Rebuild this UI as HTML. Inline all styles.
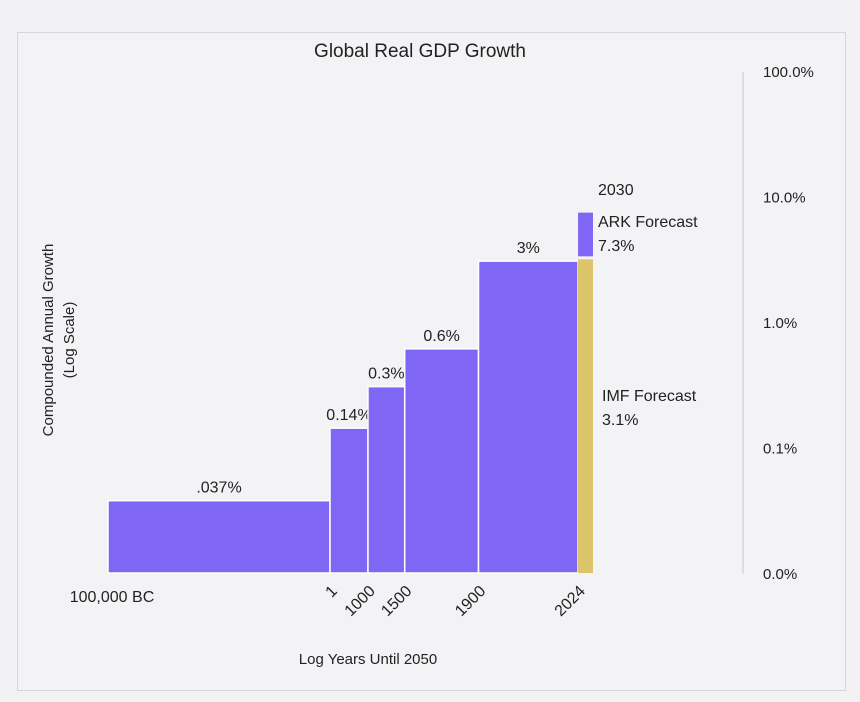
<!DOCTYPE html>
<html><head><meta charset="utf-8"><style>
body{margin:0;background:#f2f2f4;}
svg{display:block;font-family:"Liberation Sans",sans-serif;}
</style></head><body>
<svg id="chart" width="860" height="702" viewBox="0 0 860 702">
<rect x="17.5" y="32.5" width="828" height="658" fill="#f3f3f6" stroke="#d6d6da"/>
<text x="420" y="57" text-anchor="middle" font-size="19" fill="#222">Global Real GDP Growth</text>
<line x1="743" y1="72" x2="743" y2="574" stroke="#c8c8cc"/>
<g id="yticks"></g>
<g id="bars"></g>
<g id="xticks"></g>
<text transform="translate(53,340) rotate(-90)" text-anchor="middle" font-size="15" fill="#222">Compounded Annual Growth</text>
<text transform="translate(74,340) rotate(-90)" text-anchor="middle" font-size="15" fill="#222">(Log Scale)</text>
<text x="368" y="664" text-anchor="middle" font-size="15" fill="#222">Log Years Until 2050</text>
<text x="112" y="602" text-anchor="middle" font-size="16" fill="#222">100,000 BC</text>
<text x="598" y="195" font-size="16" fill="#222">2030</text>
<text x="598" y="227" font-size="16" fill="#222">ARK Forecast</text>
<text x="598" y="251" font-size="16" fill="#222">7.3%</text>
<text x="602" y="401" font-size="16" fill="#222">IMF Forecast</text>
<text x="602" y="425" font-size="16" fill="#222">3.1%</text>
</svg>
<script>
const startYears=[-100000,1,1000,1500,1900];
const endYears=[1,1000,1500,1900,2024];
const growthPct=[0.037,0.14,0.3,0.6,3];
const growthLabels=[".037%","0.14%","0.3%","0.6%","3%"];
const arkPct=7.3, imfPct=3.1, forecastStart=2024, forecastEnd=2030;
const yTickVals=[100,10,1,0.1,0.01];
const yTickLabels=["100.0%","10.0%","1.0%","0.1%","0.0%"];
const xTickYears=[1,1000,1500,1900,2024];
const xTickLabels=["1","1000","1500","1900","2024"];
const NS="http://www.w3.org/2000/svg";
function xs(yr){return 108+(Math.log10(102050)-Math.log10(2050-yr))*130.8;}
function ys(p){return 572-(Math.log10(p)+2)*125.5;}
const base=573;
function mk(t,a,parent){const e=document.createElementNS(NS,t);for(const k in a)e.setAttribute(k,a[k]);document.getElementById(parent).appendChild(e);return e;}
yTickVals.forEach((v,i)=>{const t=mk('text',{x:763,y:ys(v)+7,'font-size':15,fill:'#222'},'yticks');t.textContent=yTickLabels[i];

});
growthPct.forEach((v,i)=>{const x0=xs(startYears[i]),x1=xs(endYears[i]);
const r=mk('rect',{x:x0,y:ys(v),width:x1-x0,height:base-ys(v),fill:'#7f66f5',stroke:'#fff','stroke-width':1.5},'bars');


const t=mk('text',{x:(x0+x1)/2,y:ys(v)-8,'text-anchor':'middle','font-size':16,fill:'#222'},'bars');t.textContent=growthLabels[i];

});
const fx0=xs(forecastStart),fx1=xs(forecastEnd);
const imf=mk('rect',{x:fx0,y:ys(imfPct),width:fx1-fx0,height:base-ys(imfPct),fill:'#dcc46a'},'bars');


const ark=mk('rect',{x:fx0,y:ys(arkPct),width:fx1-fx0,height:ys(imfPct)-ys(arkPct)-3,fill:'#7f66f5'},'bars');


xTickYears.forEach((yr,i)=>{const x=xs(yr);const t=mk('text',{transform:`translate(${x+8},${592}) rotate(-45)`,'text-anchor':'end','font-size':16,fill:'#222'},'xticks');t.textContent=xTickLabels[i];

});
</script>
</body></html>
